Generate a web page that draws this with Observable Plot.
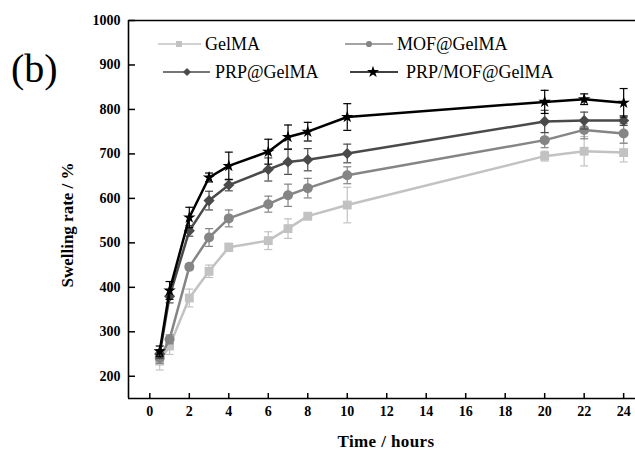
<!DOCTYPE html>
<html><head><meta charset="utf-8">
<script src="https://cdn.jsdelivr.net/npm/d3@7"></script>
<script src="https://cdn.jsdelivr.net/npm/@observablehq/plot@0.6"></script>
<style>
body{margin:0;background:#fff;}
#wrap{position:relative;width:635px;height:449px;overflow:hidden;font-family:"Liberation Serif","Times New Roman",serif;background:#fff;}
.abs{position:absolute;white-space:nowrap;line-height:1;color:#000;}
#legend{position:absolute;left:0;top:0;}
</style></head><body><div id="wrap"></div>
<script>
// ---- data ----
const times = [0.5, 1, 2, 3, 4, 6, 7, 8, 10, 20, 22, 24];
const seriesNames = ["GelMA", "MOF@GelMA", "PRP@GelMA", "PRP/MOF@GelMA"];
const gelma     = [234, 268, 376, 436, 490, 505, 532, 560, 585, 695, 706, 703];
const gelmaErr  = [20, 19, 20, 14, 9, 20, 22, 8, 40, 11, 33, 21];
const mof       = [241, 283, 446, 512, 555, 587, 607, 623, 652, 731, 754, 746];
const mofErr    = [12, 10, 6, 20, 19, 18, 25, 22, 19, 17, 20, 22];
const prp       = [250, 380, 527, 595, 630, 665, 682, 687, 701, 773, 775, 775];
const prpErr    = [10, 15, 12, 21, 13, 26, 28, 25, 21, 25, 19, 11];
const prpmof    = [256, 393, 557, 647, 673, 705, 738, 750, 783, 817, 823, 815];
const prpmofErr = [12, 20, 23, 10, 31, 28, 27, 21, 30, 26, 12, 32];
const xTicks = [0, 2, 4, 6, 8, 10, 12, 14, 16, 18, 20, 22, 24];
const yTicks = [200, 300, 400, 500, 600, 700, 800, 900, 1000];

// ---- styles ----
const capSymbol = {draw(ctx, size) { const w = Math.sqrt(size) / 2; ctx.moveTo(-w, 0); ctx.lineTo(w, 0); }};
const diamondSymbol = {draw(ctx, size) { const s = Math.sqrt(size) * 0.75; ctx.moveTo(0, -s); ctx.lineTo(s, 0); ctx.lineTo(0, s); ctx.lineTo(-s, 0); ctx.closePath(); }};
const seriesValues = [gelma, mof, prp, prpmof];
const seriesErrs = [gelmaErr, mofErr, prpErr, prpmofErr];
const colors = ["#c2c2c2", "#858585", "#4a4a4a", "#000000"];
const symbols = ["square", "circle", diamondSymbol, "star"];
const radii = [5, 5, 4.2, 3.9];

const marks = [];
seriesNames.forEach((name, k) => {
  const rows = times.map((t, i) => ({t, v: seriesValues[k][i], e: seriesErrs[k][i]}));
  marks.push(
    Plot.ruleX(rows, {x: "t", y1: d => d.v - d.e, y2: d => d.v + d.e, stroke: colors[k], strokeWidth: 1.2}),
    Plot.dot(rows, {x: "t", y: d => d.v + d.e, symbol: capSymbol, r: 4.5, stroke: colors[k], fill: "none", strokeWidth: 1.2}),
    Plot.dot(rows, {x: "t", y: d => d.v - d.e, symbol: capSymbol, r: 4.5, stroke: colors[k], fill: "none", strokeWidth: 1.2}),
    Plot.line(rows, {x: "t", y: "v", stroke: colors[k], strokeWidth: 2.5}),
    Plot.dot(rows, {x: "t", y: "v", symbol: symbols[k], r: radii[k], fill: colors[k], stroke: "none"})
  );
});

const chart = Plot.plot({
  width: 635, height: 449,
  marginLeft: 128, marginRight: 0, marginTop: 20, marginBottom: 51,
  x: {domain: [-1.08, 24.6]},
  y: {domain: [150, 1000]},
  style: {fontFamily: "'Liberation Serif', 'Times New Roman', serif", fontSize: "14px", fontWeight: "bold", background: "white", color: "black"},
  marks: [
    Plot.ruleY([150, 1000], {stroke: "black", strokeWidth: 1.6}),
    Plot.ruleX([-1.08], {stroke: "black", strokeWidth: 1.6}),
    Plot.axisX({ticks: xTicks, anchor: "top", frameAnchor: "bottom", tickSize: 6, strokeWidth: 1.5, tickFormat: () => "", label: null}),
    Plot.axisY({ticks: yTicks, anchor: "right", frameAnchor: "left", tickSize: 6, strokeWidth: 1.5, tickFormat: () => "", label: null}),
    Plot.axisX({ticks: xTicks, tickSize: 0, tickPadding: 8, tickFormat: d => String(d), label: null}),
    Plot.axisY({ticks: yTicks, tickSize: 0, tickPadding: 8, tickFormat: d => String(d), label: null}),
    ...marks
  ]
});

const wrap = document.getElementById("wrap");
wrap.appendChild(chart);

// ---- texts ----
function addText(txt, css) {
  const d = document.createElement("div");
  d.className = "abs"; d.textContent = txt;
  Object.assign(d.style, css);
  wrap.appendChild(d);
  return d;
}
addText("(b)", {left: "11px", top: "49px", fontSize: "40px"});
addText("Time / hours", {left: "386px", top: "441px", fontSize: "17px", fontWeight: "bold", transform: "translate(-50%,-50%)", letterSpacing: "0.4px"});
addText("Swelling rate / %", {left: "67px", top: "225px", fontSize: "17px", fontWeight: "bold", transform: "translate(-50%,-50%) rotate(-90deg)"});

// ---- legend ----
const legendItems = [
  {k: 0, row: 44, x1: 158, x2: 201, mx: 179, tx: 205},
  {k: 1, row: 44, x1: 345, x2: 393, mx: 369, tx: 397},
  {k: 2, row: 72, x1: 163, x2: 210, mx: 187, tx: 215},
  {k: 3, row: 72, x1: 350, x2: 398, mx: 373, tx: 406}
];
const legendSymbols = [d3.symbolSquare, d3.symbolCircle, d3.symbolDiamond2, d3.symbolStar];
const legendSizes = [36, 30, 40, 45];
const lg = d3.select(wrap).append("svg").attr("id", "legend").attr("width", 635).attr("height", 449);
legendItems.forEach(it => {
  const g = lg.append("g");
  g.append("line").attr("x1", it.x1).attr("x2", it.x2).attr("y1", it.row).attr("y2", it.row)
    .attr("stroke", colors[it.k]).attr("stroke-width", 1.5);
  g.append("path").attr("d", d3.symbol(legendSymbols[it.k], legendSizes[it.k])())
    .attr("transform", `translate(${it.mx},${it.row})`)
    .attr("fill", colors[it.k]);
  g.append("text").attr("x", it.tx).attr("y", it.row).attr("dy", "0.35em")
    .attr("font-family", "'Liberation Serif', 'Times New Roman', serif").attr("font-size", 18)
    .attr("fill", "#000").text(seriesNames[it.k]);
});
</script></body></html>
